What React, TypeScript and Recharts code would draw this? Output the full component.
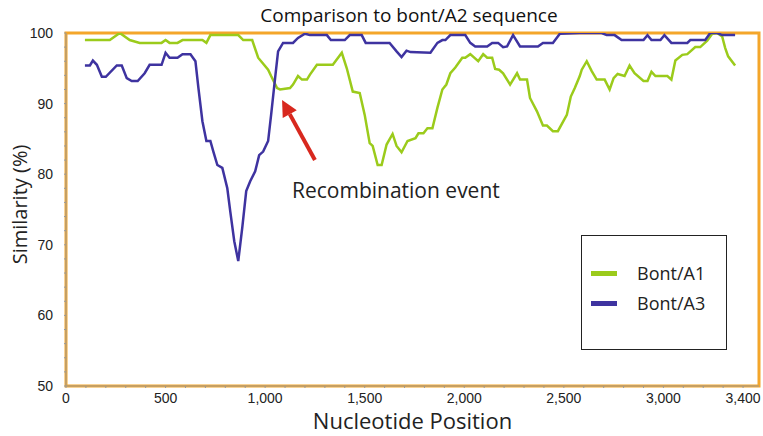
import React from "react";
import {
  LineChart,
  Line,
  XAxis,
  YAxis,
  Legend,
  ReferenceArea,
  ReferenceLine,
} from "recharts";

// nucleotide position / similarity (%)
const a1Pos = [95, 220, 270, 320, 370, 480, 500, 520, 560, 585, 685, 705, 725, 865, 890, 935, 965, 1015, 1030, 1060, 1075, 1125, 1140, 1165, 1185, 1210, 1225, 1260, 1340, 1385, 1410, 1440, 1475, 1500, 1525, 1540, 1565, 1585, 1610, 1640, 1660, 1685, 1715, 1755, 1770, 1795, 1815, 1840, 1865, 1890, 1910, 1930, 1955, 1990, 2005, 2030, 2070, 2095, 2115, 2140, 2155, 2175, 2195, 2230, 2265, 2280, 2315, 2330, 2365, 2395, 2415, 2445, 2470, 2515, 2535, 2555, 2580, 2590, 2615, 2640, 2665, 2705, 2730, 2750, 2770, 2805, 2830, 2855, 2900, 2920, 2940, 2960, 3020, 3040, 3060, 3095, 3120, 3160, 3185, 3220, 3245, 3270, 3295, 3310, 3325, 3360];
const a1Sim = [99, 99, 100, 99, 98.6, 98.6, 99, 98.6, 98.6, 99, 99, 98.6, 99.7, 99.7, 99, 99, 96.5, 94.8, 93.9, 92.2, 92, 92.2, 92.7, 93.9, 93.4, 93.4, 94.1, 95.5, 95.5, 97.2, 95, 91.7, 91.5, 88.4, 84.4, 84, 81.3, 81.3, 84.2, 85.7, 84, 83.1, 84.7, 85.1, 85.8, 85.8, 86.5, 86.5, 89.4, 92, 92.7, 94.3, 95.1, 96.5, 96.5, 97, 96, 97, 96.5, 96.5, 94.9, 94.8, 94.3, 92.7, 94.3, 93.4, 93.4, 90.8, 88.9, 86.9, 86.9, 86.1, 86.1, 88.4, 91, 92.2, 93.9, 94.8, 96, 94.6, 93.4, 93.4, 92, 93.6, 94.2, 93.9, 95.4, 94.3, 93.2, 93.2, 94.5, 93.9, 93.9, 93.4, 96.1, 96.9, 97, 98, 98, 98.9, 99.9, 100, 99.5, 97.9, 96.7, 95.4];

const a3Pos = [95, 120, 135, 155, 180, 200, 255, 280, 305, 330, 360, 395, 420, 480, 500, 520, 560, 585, 625, 650, 665, 685, 705, 725, 740, 760, 785, 810, 825, 845, 865, 885, 905, 925, 950, 970, 990, 1015, 1030, 1050, 1065, 1090, 1140, 1165, 1200, 1225, 1310, 1330, 1400, 1425, 1485, 1505, 1625, 1660, 1685, 1710, 1730, 1830, 1865, 1890, 1905, 1930, 2005, 2030, 2055, 2115, 2140, 2170, 2195, 2215, 2245, 2280, 2370, 2395, 2445, 2480, 2580, 2690, 2715, 2755, 2790, 2900, 2920, 2940, 2985, 3005, 3040, 3120, 3135, 3210, 3235, 3270, 3295, 3360];
const a3Sim = [95.4, 95.4, 96.1, 95.5, 93.8, 93.8, 95.4, 95.4, 93.6, 93.2, 93.2, 94.3, 95.5, 95.5, 97.2, 96.5, 96.5, 97, 97, 96, 92.2, 87.5, 84.7, 84.7, 83.2, 81.3, 80.9, 78, 74.7, 70.5, 67.7, 72.4, 77.6, 79, 80.4, 82.7, 83.2, 84.7, 88.4, 93.6, 97.4, 98.6, 98.6, 99.3, 99.9, 99.7, 99.7, 99, 99, 99.7, 99.7, 98.6, 98.6, 97.4, 96.6, 97.5, 97.3, 97.2, 98.6, 99, 99, 99.7, 99.7, 98.6, 98.1, 98.1, 98.6, 98.6, 98, 98.1, 99.7, 98.1, 98.1, 98.6, 98.6, 99.9, 100, 100, 99.7, 99.7, 99, 99, 99.7, 99, 99, 99.7, 98.6, 98.6, 99, 99, 100, 100, 99.7, 99.7];

const xTicks = Array.from({ length: 35 }, (_, i) => i * 100);
const yTicks = Array.from({ length: 26 }, (_, i) => 50 + i * 2);
const xLabels = [0, 500, 1000, 1500, 2000, 2500, 3000, 3400];

const a1Data = a1Pos.map((p, i) => ({ pos: p, sim: a1Sim[i] }));
const a3Data = a3Pos.map((p, i) => ({ pos: p, sim: a3Sim[i] }));

const GREEN = "#9BCB1B";
const PURPLE = "#3E33A0";
const ORANGE = "#F4A62A";
const TITLE_FONT = "'Open Sans', 'Noto Sans', sans-serif";

const Arrow = (props: any) => {
  const { x1, y1, x2, y2 } = props;
  const ang = Math.atan2(y2 - y1, x2 - x1);
  const len = 16;
  const w = 8;
  const bx = x2 - len * Math.cos(ang);
  const by = y2 - len * Math.sin(ang);
  const px = -Math.sin(ang) * w;
  const py = Math.cos(ang) * w;
  return (
    <g>
      <line x1={x1} y1={y1} x2={bx} y2={by} stroke="#D8281E" strokeWidth={4} />
      <polygon
        points={`${x2},${y2} ${bx + px},${by + py} ${bx - px},${by - py}`}
        fill="#D8281E"
      />
    </g>
  );
};

const LegendBox = () => (
  <div
    style={{
      width: 144,
      height: 113,
      border: "1px solid #222",
      background: "#fff",
      position: "relative",
      fontFamily: TITLE_FONT,
      fontSize: 18,
      color: "#222",
    }}
  >
    {[
      { name: "Bont/A1", color: GREEN, top: 25 },
      { name: "Bont/A3", color: PURPLE, top: 55 },
    ].map((it) => (
      <div key={it.name} style={{ position: "absolute", left: 9, top: it.top, display: "flex", alignItems: "center" }}>
        <div style={{ width: 26, height: 5, background: it.color }} />
        <span style={{ marginLeft: 20 }}>{it.name}</span>
      </div>
    ))}
  </div>
);

export default function App() {
  return (
    <div style={{ position: "absolute", left: 0, top: 0, width: 763, height: 436, background: "#fff" }}>
      <div
        style={{
          position: "absolute",
          left: 0,
          width: 818,
          top: 2,
          textAlign: "center",
          fontFamily: TITLE_FONT,
          fontSize: 19,
          color: "#111",
        }}
      >
        Comparison to bont/A2 sequence
      </div>
      <div
        style={{
          position: "absolute",
          left: 292,
          top: 176,
          fontFamily: TITLE_FONT,
          fontSize: 21,
          color: "#222",
          zIndex: 2,
        }}
      >
        Recombination event
      </div>
      <LineChart width={763} height={436} margin={{ top: 33, right: 4, left: 0, bottom: 0 }}>
        <XAxis
          type="number"
          dataKey="pos"
          domain={[0, 3480]}
          ticks={xTicks}
          interval={0}
          allowDataOverflow
          height={50}
          tickSize={2}
          tickMargin={5}
          stroke="#999"
          tick={{ fill: "#222", fontSize: 14, fontFamily: "'Liberation Sans', Arial, sans-serif" }}
          tickFormatter={(v: number) => (xLabels.includes(v) ? v.toLocaleString("en-US") : "")}
          label={{
            value: "Nucleotide Position",
            position: "insideBottom",
            offset: 7,
            style: { fontFamily: TITLE_FONT, fontSize: 22, fill: "#222" },
          }}
        />
        <YAxis
          type="number"
          domain={[50, 100]}
          ticks={yTicks}
          interval={0}
          allowDataOverflow
          width={66}
          tickSize={2}
          tickMargin={11}
          stroke="#999"
          tick={{ fill: "#222", fontSize: 14, fontFamily: "'Liberation Sans', Arial, sans-serif" }}
          tickFormatter={(v: number) => (v % 10 === 0 ? String(v) : "")}
          label={{
            value: "Similarity (%)",
            angle: -90,
            position: "center",
            dx: -13,
            dy: -5,
            style: { fontFamily: TITLE_FONT, fontSize: 20, fill: "#222", textAnchor: "middle" },
          }}
        />
        <Line
          data={a1Data}
          dataKey="sim"
          name="Bont/A1"
          type="linear"
          stroke={GREEN}
          strokeWidth={2.5}
          dot={false}
          isAnimationActive={false}
        />
        <Line
          data={a3Data}
          dataKey="sim"
          name="Bont/A3"
          type="linear"
          stroke={PURPLE}
          strokeWidth={2.5}
          dot={false}
          isAnimationActive={false}
        />
        <ReferenceArea
          x1={0}
          x2={3480}
          y1={50}
          y2={100}
          fill="none"
          stroke={ORANGE}
          strokeWidth={3}
          strokeOpacity={1}
          ifOverflow="visible"
        />
        <ReferenceLine
          segment={[
            { x: 1250, y: 82 },
            { x: 1085, y: 90.5 },
          ]}
          shape={Arrow}
          ifOverflow="visible"
        />
        <Legend
          layout="vertical"
          align="center"
          verticalAlign="middle"
          content={() => <LegendBox />}
          wrapperStyle={{ left: 581, top: 235, width: 146, height: 115 }}
        />
      </LineChart>
    </div>
  );
}
